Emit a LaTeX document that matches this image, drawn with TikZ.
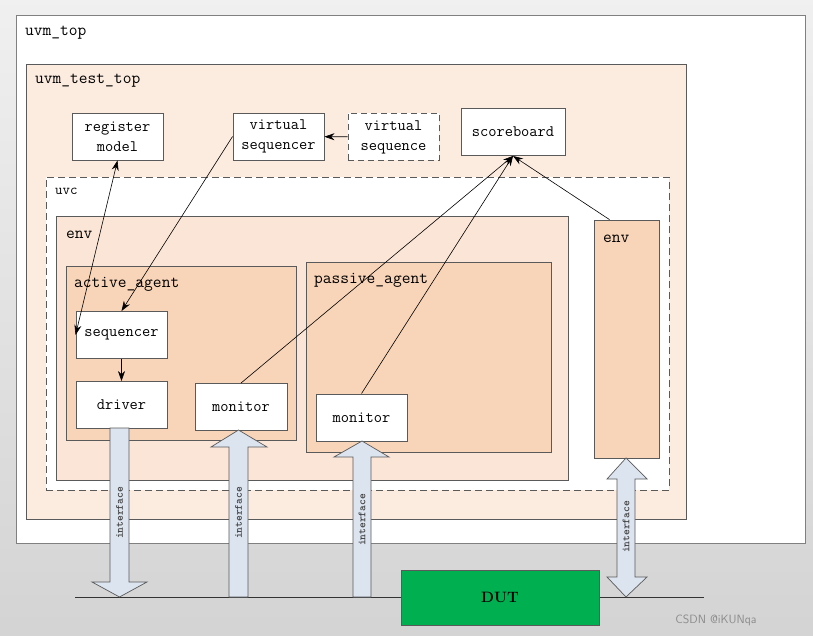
\documentclass[tikz,border=0pt]{standalone}
\usepackage{tikz}
\usetikzlibrary{arrows.meta}

\definecolor{testtop}{HTML}{FCEBDF}
\definecolor{envlite}{HTML}{FBE5D6}
\definecolor{agentfill}{HTML}{F8D4B8}
\definecolor{dutgreen}{HTML}{00B050}
\definecolor{ifacefill}{HTML}{DCE4F0}
\definecolor{frame}{HTML}{5A5A5A}

\begin{document}
\begin{tikzpicture}[x=1pt,y=-1pt,>={Stealth[length=10pt,width=7pt]},
  every node/.style={inner sep=0pt},
  cont/.style={draw=frame,line width=0.8pt},
  box/.style={draw=frame,line width=0.9pt,fill=white,minimum width=91pt,minimum height=47pt,align=center,font=\ttfamily\fontsize{16}{20}\selectfont},
  lbl/.style={anchor=west,font=\ttfamily\fontsize{17}{20}\selectfont},
  iface/.style={draw=frame,line width=0.7pt,fill=ifacefill},
  iftext/.style={rotate=90,font=\ttfamily\bfseries\fontsize{11}{12}\selectfont,text=black!75}]
\useasboundingbox (0,0) rectangle (813,636);
\shade[top color=black!6,bottom color=black!17] (0,0) rectangle (813,636);

% containers
\node[cont,draw=black!50,fill=white,minimum width=789pt,minimum height=528pt] (uvmtop) at (410.5,279) {};
\node[cont,fill=testtop,minimum width=660pt,minimum height=455pt] (testtop) at (356,291.5) {};
\node[cont,dashed,dash pattern=on 7pt off 4pt,fill=white,minimum width=623pt,minimum height=313pt] (uvc) at (357.5,333.5) {};
\node[cont,fill=envlite,minimum width=512pt,minimum height=264pt] (envl) at (312,348) {};
\node[cont,fill=agentfill,minimum width=65pt,minimum height=238pt] (envr) at (626.5,339) {};
\node[cont,fill=agentfill,minimum width=230pt,minimum height=174pt] (active) at (181,353) {};
\node[cont,fill=agentfill,minimum width=245pt,minimum height=190pt] (passive) at (428.5,357) {};

\node[lbl] (ltop) at (25,33) {uvm\_top};
\node[lbl] (ltest) at (35,81) {uvm\_test\_top};
\node[lbl,font=\ttfamily\fontsize{14.5}{17}\selectfont] (luvc) at (55,191) {uvc};
\node[lbl] (lenvl) at (66,235) {env};
\node[lbl] (lenvr) at (603,239) {env};
\node[lbl] (lact) at (74,284) {active\_agent};
\node[lbl] (lpas) at (314,280) {passive\_agent};

% components
\node[box] (regmodel) at (117.5,136.5) {register\\model};
\node[box] (vseqr) at (278.5,136.5) {virtual\\sequencer};
\node[box,dashed,dash pattern=on 6pt off 4pt] (vseq) at (393.5,137) {virtual\\sequence};
\node[box,minimum width=104pt] (scb) at (513,132) {scoreboard};
\node[box] (seqr) at (121.5,335) {sequencer};
\node[box] (drv) at (121.5,405) {driver};
\node[box,minimum width=92pt] (amon) at (241,407) {monitor};
\node[box] (pmon) at (361.5,417.5) {monitor};

% connections
\draw[<->,line width=0.6pt] (regmodel.south) -- (seqr.west);
\draw[->,line width=0.6pt] (vseqr.west) -- (seqr.north);
\draw[->,line width=0.6pt] (vseq) -- (vseqr);
\draw[->,line width=0.6pt] (seqr) -- (drv);
\draw[->,line width=0.6pt] (amon.north) -- (scb.south);
\draw[->,line width=0.6pt] (pmon.north) -- (scb.south);
\draw[->,line width=0.6pt] ([xshift=-17pt]envr.north) -- (scb.south);

% bus and DUT
\coordinate (busl) at (75,597);
\coordinate (busr) at (704,597);
\draw[line width=0.9pt,black!80] (busl) -- (busr);
\node[draw=frame,line width=0.9pt,fill=dutgreen,minimum width=198pt,minimum height=55pt,font=\bfseries\fontsize{15}{18}\selectfont] (dut) at (500,597.5) {DUT};

% interfaces
\draw[iface] (110,428) -- (129,428) -- (129,582) -- (147,582) -- (119.5,597) -- (92,582) -- (110,582) -- cycle;
\draw[iface] (229,597) -- (229,447) -- (211,447) -- (238.5,430) -- (267,447) -- (248,447) -- (248,597) -- cycle;
\draw[iface] (353,597) -- (353,457) -- (334,457) -- (362,441) -- (389,457) -- (371,457) -- (371,597) -- cycle;
\draw[iface] (617,479) -- (607,479) -- (626,458) -- (647,479) -- (635,479) -- (635,577) -- (647,577) -- (626,597) -- (607,577) -- (617,577) -- cycle;
\node[iftext] (if1) at (119.5,513) {interface};
\node[iftext] (if2) at (238.5,513) {interface};
\node[iftext] (if3) at (362,520) {interface};
\node[iftext] (if4) at (626,527) {interface};

\node[font=\sffamily\fontsize{12}{14}\selectfont,text=black!45] (wm) at (716,620) {CSDN @iKUNqa};
\end{tikzpicture}
\end{document}
